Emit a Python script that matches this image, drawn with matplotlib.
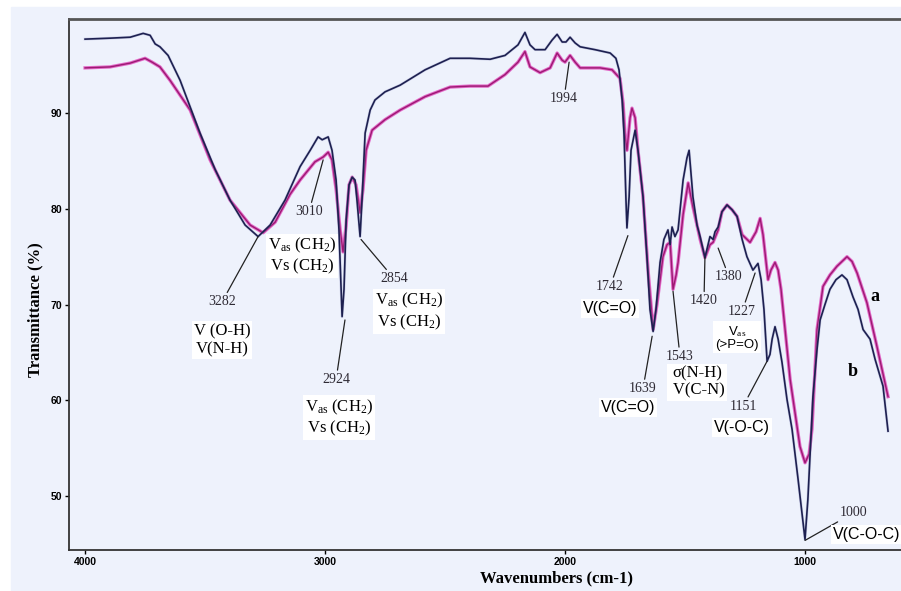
import matplotlib
matplotlib.use("Agg")
import matplotlib.pyplot as plt
from matplotlib.patches import Rectangle

# ===========================================
# DATA
# ===========================================

# curve b (dark blue)
wn_b = [4000, 3896, 3812, 3758, 3729, 3708, 3688, 3654, 3604, 3521, 3458,
        3396, 3333, 3279, 3229, 3167, 3104, 3062, 3029, 3012, 2987, 2971,
        2954, 2942, 2933, 2929, 2921, 2912, 2900, 2887, 2875, 2867, 2854,
        2846, 2833, 2812, 2792, 2750, 2687, 2583, 2479, 2396, 2312, 2250,
        2196, 2167, 2146, 2125, 2083, 2054, 2033, 2012, 1996, 1979, 1958,
        1937, 1875, 1812, 1788, 1775, 1762, 1754, 1746, 1742, 1733, 1725,
        1708, 1696, 1675, 1658, 1646, 1633, 1621, 1604, 1588, 1571, 1562,
        1554, 1542, 1529, 1508, 1492, 1483, 1467, 1450, 1437, 1417, 1396,
        1383, 1375, 1362, 1346, 1325, 1304, 1283, 1262, 1242, 1217, 1196,
        1183, 1171, 1158, 1146, 1137, 1125, 1112, 1096, 1075, 1054, 1029,
        1012, 1000, 988, 967, 950, 937, 917, 896, 871, 846, 825, 800, 779,
        758, 729, 708, 675, 654]
tr_b = [97.7, 97.8, 97.9, 98.3, 98.1, 97.2, 96.9, 96.0, 93.4, 87.9, 84.1,
        80.9, 78.3, 77.1, 78.3, 80.9, 84.4, 86.1, 87.5, 87.2, 87.5, 86.1,
        83.0, 77.8, 71.6, 68.75, 71.6, 78.9, 82.5, 83.3, 83.0, 80.9, 77.1,
        80.9, 87.9, 90.3, 91.35, 92.2, 92.9, 94.5, 95.7, 95.7, 95.6, 96.0,
        97.1, 98.4, 97.1, 96.6, 96.6, 97.6, 98.2, 97.4, 97.4, 97.9, 97.3,
        96.9, 96.6, 96.25, 95.7, 94.5, 91.35, 87.7, 80.9, 78.0, 81.25, 86.1,
        88.2, 86.1, 81.25, 74.7, 69.5, 67.2, 69.5, 74.4, 76.8, 77.8, 76.25,
        78.1, 77.1, 77.8, 83.0, 85.3, 86.1, 81.25, 78.3, 77.1, 74.9, 77.1,
        76.8, 77.6, 78.1, 79.7, 80.4, 79.9, 79.2, 76.8, 75.0, 73.6, 74.3,
        72.6, 69.5, 64.1, 64.8, 66.4, 67.7, 66.4, 64.0, 60.1, 57.0, 51.8,
        48.1, 45.5, 49.7, 60.4, 65.3, 68.4, 70.0, 71.6, 72.6, 73.1, 72.6,
        70.8, 69.5, 67.4, 66.4, 64.3, 61.5, 56.8]

# curve a (magenta)
wn_a = [4000, 3896, 3812, 3750, 3721, 3688, 3646, 3562, 3479, 3396, 3312,
        3258, 3208, 3146, 3104, 3042, 3008, 2987, 2971, 2954, 2937, 2925,
        2912, 2900, 2887, 2871, 2854, 2842, 2829, 2804, 2750, 2687, 2583,
        2479, 2396, 2321, 2250, 2196, 2167, 2146, 2104, 2062, 2033, 2012,
        2000, 1979, 1958, 1937, 1854, 1804, 1771, 1758, 1750, 1742, 1729,
        1721, 1708, 1696, 1675, 1654, 1633, 1617, 1592, 1575, 1562, 1550,
        1537, 1529, 1508, 1487, 1467, 1437, 1417, 1396, 1383, 1362, 1346,
        1325, 1304, 1283, 1262, 1229, 1204, 1187, 1175, 1154, 1142, 1125,
        1112, 1100, 1079, 1062, 1021, 1000, 983, 971, 950, 925, 896, 867,
        825, 804, 783, 742, 700, 654]
tr_a = [94.7, 94.8, 95.2, 95.7, 95.3, 94.8, 93.4, 90.3, 85.1, 80.9, 78.3,
        77.5, 78.6, 81.5, 83.0, 84.9, 85.4, 85.9, 85.1, 82.0, 77.8, 75.5,
        78.3, 82.5, 83.3, 82.5, 79.6, 82.0, 86.1, 88.2, 89.3, 90.3, 91.7,
        92.7, 92.8, 92.8, 94.0, 95.3, 96.4, 94.8, 94.2, 94.7, 96.25, 95.5,
        95.3, 96.0, 95.3, 94.7, 94.7, 94.5, 93.6, 91.0, 87.7, 86.1, 89.5,
        90.5, 89.5, 86.1, 81.25, 73.6, 67.4, 70.0, 75.0, 76.25, 76.5, 71.6,
        73.1, 74.4, 79.4, 82.7, 80.2, 76.8, 74.9, 76.25, 76.5, 77.8, 79.7,
        80.4, 79.9, 79.2, 77.3, 76.5, 77.6, 79.0, 77.3, 72.6, 73.6, 74.4,
        73.6, 71.6, 66.4, 62.2, 55.2, 53.5, 54.4, 57.0, 67.4, 71.9, 73.1,
        74.0, 75.0, 74.5, 73.3, 70.2, 65.6, 60.4]

x_ticks = [4000, 3000, 2000, 1000]
y_ticks = [50, 60, 70, 80, 90]

# peak labels: (text, label position, peak position)
peak_labels = [
    ("3282", (3429, 70.3), (3279, 77.1)),
    ("3010", (3067, 79.7), (3008, 85.1)),
    ("2924", (2954, 62.2), (2917, 68.4)),
    ("2854", (2712, 72.7), (2850, 76.8)),
    ("1994", (2004, 91.5), (1983, 95.3)),
    ("1742", (1812, 71.9), (1738, 77.2)),
    ("1639", (1675, 61.25), (1637, 66.7)),
    ("1543", (1521, 64.6), (1550, 71.4)),
    ("1420", (1421, 70.4), (1417, 74.9)),
    ("1380", (1317, 72.9), (1362, 75.9)),
    ("1227", (1262, 69.3), (1208, 73.3)),
    ("1151", (1258, 59.4), (1158, 64.1)),
    ("1000", (796, 48.3), (1000, 45.4)),
]

# ===========================================
# FIGURE
# ===========================================

SERIF = ["Liberation Serif", "DejaVu Serif"]
SANS = ["Liberation Sans", "DejaVu Sans"]
BG = "#eef2fc"

plt.rcParams["mathtext.fontset"] = "custom"
plt.rcParams["mathtext.rm"] = "Liberation Serif"
plt.rcParams["mathtext.it"] = "Liberation Serif:italic"
plt.rcParams["mathtext.bf"] = "Liberation Serif:bold"

fig = plt.figure(figsize=(9.01, 5.91), dpi=100, facecolor="white")
fig.patches.append(Rectangle((11 / 901, 0), 1, 584 / 591,
                             transform=fig.transFigure, color=BG, zorder=-1))

ax = fig.add_axes([69 / 901, 41 / 591, 832 / 901, 531 / 591])
ax.set_facecolor(BG)

# magenta curve: light halo + darker core, like the scanned spectrum
ax.plot(wn_a, tr_a, color="#e04fbe", linewidth=2.4, alpha=0.85, zorder=2)
ax.plot(wn_a, tr_a, color="#9c1a72", linewidth=1.0, zorder=3)
ax.plot(wn_b, tr_b, color="#8c90c0", linewidth=2.0, alpha=0.35, zorder=3)
ax.plot(wn_b, tr_b, color="#1d2050", linewidth=1.2, zorder=4)

ax.set_xlim(4067, 600)
ax.set_ylim(44.4, 99.8)

ax.set_xticks(x_ticks)
ax.set_yticks(y_ticks)
ax.tick_params(length=3, width=1, pad=2, labelsize=7.5)
for lab in ax.get_xticklabels() + ax.get_yticklabels():
    lab.set_fontweight("bold")
    lab.set_family(SANS)

ax.spines["right"].set_visible(False)
ax.spines["top"].set_color("#555555")
ax.spines["top"].set_linewidth(2)
ax.spines["left"].set_color("#333333")
ax.spines["bottom"].set_color("#333333")
ax.spines["left"].set_linewidth(1.3)
ax.spines["bottom"].set_linewidth(1.3)

fig.text(35 / 901, 1 - 310 / 591, "Transmittance (%)", rotation=90,
         ha="center", va="center", fontsize=12, fontweight="bold",
         family=SERIF)
fig.text(556 / 901, 1 - 578 / 591, "Wavenumbers (cm-1)", ha="center",
         va="center", fontsize=12, fontweight="bold", family=SERIF)

# ===========================================
# PEAK ANNOTATIONS
# ===========================================

for text, pos, peak in peak_labels:
    ax.annotate(text, xy=peak, xytext=pos, ha="center", va="center",
                fontsize=10, family=SERIF, color="#2e2a34",
                arrowprops=dict(arrowstyle="-", color="#222222", lw=0.9,
                                shrinkA=0, shrinkB=0), zorder=6)

box = dict(facecolor="white", edgecolor="none", pad=1.5)
vch = "V$_\\mathrm{as}$ (CH$_2$)\nVs (CH$_2$)"

ax.text(3429, 66.3, "V (O-H)\nV(N-H)", ha="center", va="center",
        fontsize=12, family=SERIF, bbox=box, linespacing=1.15, zorder=6)
ax.text(3096, 75.1, vch, ha="center", va="center", fontsize=12,
        family=SERIF, bbox=box, linespacing=1.15, zorder=6)
ax.text(2942, 58.2, vch, ha="center", va="center", fontsize=12,
        family=SERIF, bbox=box, linespacing=1.15, zorder=6)
ax.text(2650, 69.3, vch, ha="center", va="center", fontsize=12,
        family=SERIF, bbox=box, linespacing=1.15, zorder=6)
ax.text(1812, 69.6, "V(C=O)", ha="center", va="center", fontsize=11.5,
        family=SANS, bbox=box, zorder=6)
ax.text(1737, 59.3, "V(C=O)", ha="center", va="center", fontsize=11.5,
        family=SANS, bbox=box, zorder=6)
ax.text(1450, 61.9, "\u03c3(N-H)\n V(C-N)", ha="center", va="center",
        fontsize=12, family=SERIF, bbox=box, linespacing=1.1, zorder=6)
ax.text(1283, 66.6, "V$_\\mathrm{as}$\n(>P=O)", ha="center", va="center",
        fontsize=9.5, family=SANS, bbox=box, linespacing=1.0, zorder=6)
ax.text(1262, 57.2, "V(-O-C)", ha="center", va="center", fontsize=11.5,
        family=SANS, bbox=box, zorder=6)
ax.text(742, 46.0, "V(C-O-C)", ha="center", va="center", fontsize=11.5,
        family=SANS, bbox=box, zorder=6, clip_on=False)

ax.text(708, 70.9, "a", ha="center", va="center", fontsize=13,
        fontweight="bold", family=SERIF, zorder=6)
ax.text(800, 63.0, "b", ha="center", va="center", fontsize=13,
        fontweight="bold", family=SERIF, zorder=6)

fig.savefig("out.png", dpi=100, facecolor=fig.get_facecolor())
